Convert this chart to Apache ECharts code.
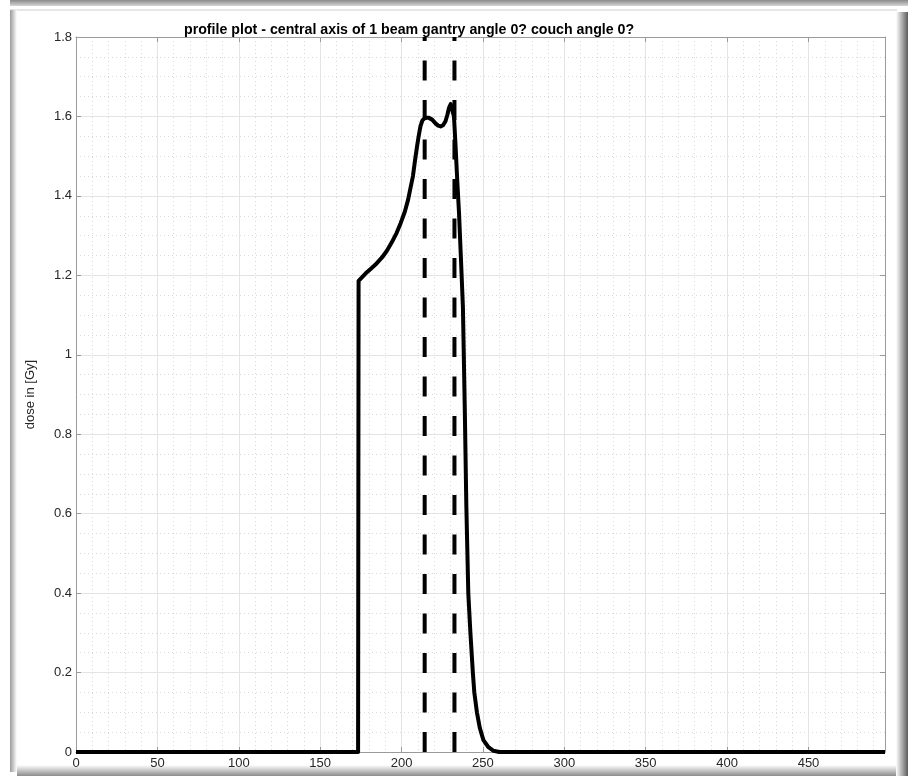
<!DOCTYPE html>
<html>
<head>
<meta charset="utf-8">
<script src="https://cdn.jsdelivr.net/npm/echarts@6/dist/echarts.min.js"></script>
<style>
html,body{margin:0;padding:0;background:#fff;}
#chart{width:908px;height:776px;}
</style>
</head>
<body>
<div id="chart"></div>
<script>
// ---- data ----
const titleText = 'profile plot - central axis of 1 beam gantry angle 0? couch angle 0?';
const yAxisName = 'dose in [Gy]';
const doseX = [0, 173.3, 173.6, 175.5, 178, 181, 184, 188, 191, 194, 197, 199.5, 202, 204, 205.5, 207, 208.3, 209.5, 210.5, 211.6, 212.8, 214.6, 216.5, 218.8, 221, 222.5, 224, 225.5, 227, 228.2, 229.1, 230.2, 231.1, 232.2, 233.2, 234.2, 235.3, 236.4, 237.7, 238.9, 239.8, 241.0, 242.3, 243.8, 244.7, 246.3, 248.1, 250.3, 253.4, 256.5, 260, 497];
const doseY = [0, 0, 1.186, 1.194, 1.205, 1.216, 1.227, 1.245, 1.262, 1.283, 1.307, 1.332, 1.36, 1.39, 1.42, 1.45, 1.49, 1.524, 1.55, 1.575, 1.59, 1.597, 1.597, 1.592, 1.582, 1.577, 1.575, 1.578, 1.588, 1.605, 1.621, 1.631, 1.633, 1.6, 1.524, 1.44, 1.357, 1.25, 1.12, 0.85, 0.62, 0.4, 0.3, 0.2, 0.15, 0.1, 0.06, 0.03, 0.012, 0.003, 0, 0];
const markerX = [214.2, 232.5];
const markerY = [0, 1.8];
const xMin = 0, xMax = 497, xStep = 50;
const yMin = 0, yMax = 1.8, yStep = 0.2;

const chart = echarts.init(document.getElementById('chart'), null, {renderer: 'canvas'});
const FONT = 'Liberation Sans, Arial, Helvetica, sans-serif';
const axisCol = '#9a9a9a';
const labelCol = '#262626';

function axisBase(extra) {
  return Object.assign({
    type: 'value',
    axisLine: {show: true, onZero: false, lineStyle: {color: axisCol, width: 1}},
    axisTick: {show: true, inside: true, length: 5, lineStyle: {color: axisCol}},
    minorTick: {show: false},
    splitLine: {show: false},
    minorSplitLine: {show: false},
    axisLabel: {show: false}
  }, extra);
}

const series = [{
  type: 'line',
  data: doseX.map((x, i) => [x, doseY[i]]),
  showSymbol: false,
  clip: false,
  lineStyle: {color: '#000', width: 4, join: 'round'},
  z: 5,
  silent: true
}];
markerX.forEach(mx => {
  series.push({
    type: 'line',
    data: markerY.map(y => [mx, y]),
    showSymbol: false,
    clip: false,
    lineStyle: {color: '#000', width: 4, type: [20, 19.5], cap: 'butt'},
    z: 6,
    silent: true
  });
});

const grad = (x, y, x2, y2, c0, c1) => new echarts.graphic.LinearGradient(x, y, x2, y2, [{offset: 0, color: c0}, {offset: 1, color: c1}]);

chart.setOption({
  animation: false,
  backgroundColor: '#fff',
  title: {
    text: titleText,
    left: 179, top: 18,
    textStyle: {fontFamily: FONT, fontSize: 14.2, fontWeight: 'bold', color: '#000'}
  },
  grid: {left: 76, right: 23, top: 37, bottom: 24, containLabel: false},
  xAxis: [
    axisBase({
      position: 'bottom', min: xMin, max: xMax, interval: xStep,
      axisLabel: {show: true, showMaxLabel: false, color: labelCol, fontFamily: FONT, fontSize: 13, margin: 5},
      splitLine: {show: true, lineStyle: {color: '#e4e4e4', width: 1}},
      minorTick: {show: false, splitNumber: 5},
      minorSplitLine: {show: true, lineStyle: {color: '#dadada', width: 1, type: [1, 3]}}
    }),
    axisBase({position: 'top', min: xMin, max: xMax, interval: xStep})
  ],
  yAxis: [
    axisBase({
      position: 'left', min: yMin, max: yMax, interval: yStep,
      name: yAxisName, nameLocation: 'middle', nameGap: 39, nameRotate: 90,
      nameTextStyle: {color: labelCol, fontFamily: FONT, fontSize: 13},
      axisLabel: {show: true, color: labelCol, fontFamily: FONT, fontSize: 13, margin: 4,
        formatter: v => (Math.round(v * 10) / 10).toString()},
      splitLine: {show: true, lineStyle: {color: '#e4e4e4', width: 1}},
      minorTick: {show: false, splitNumber: 4},
      minorSplitLine: {show: true, lineStyle: {color: '#dadada', width: 1, type: [1, 3]}}
    }),
    axisBase({position: 'right', min: yMin, max: yMax, interval: yStep})
  ],
  series: series,
  graphic: [
    {type: 'rect', z: -10, shape: {x: 10, y: 0, width: 898, height: 6}, style: {fill: grad(0, 0, 0, 1, '#8a8a8a', '#d6d6d6')}, silent: true},
    {type: 'rect', z: -10, shape: {x: 10, y: 9, width: 887, height: 2}, style: {fill: '#e6e6e6'}, silent: true},
    {type: 'rect', z: -10, shape: {x: 10, y: 10, width: 7, height: 762}, style: {fill: grad(0, 0, 1, 0, '#9a9a9a', '#ffffff')}, silent: true},
    {type: 'rect', z: -10, shape: {x: 896, y: 12, width: 12, height: 764}, style: {fill: grad(0, 0, 1, 0, '#ffffff', '#5c5c5c')}, silent: true},
    {type: 'rect', z: -10, shape: {x: 17, y: 765, width: 879, height: 11}, style: {fill: grad(0, 0, 0, 1, '#ffffff', '#8c8c8c')}, silent: true}
  ]
});
</script>
</body>
</html>
